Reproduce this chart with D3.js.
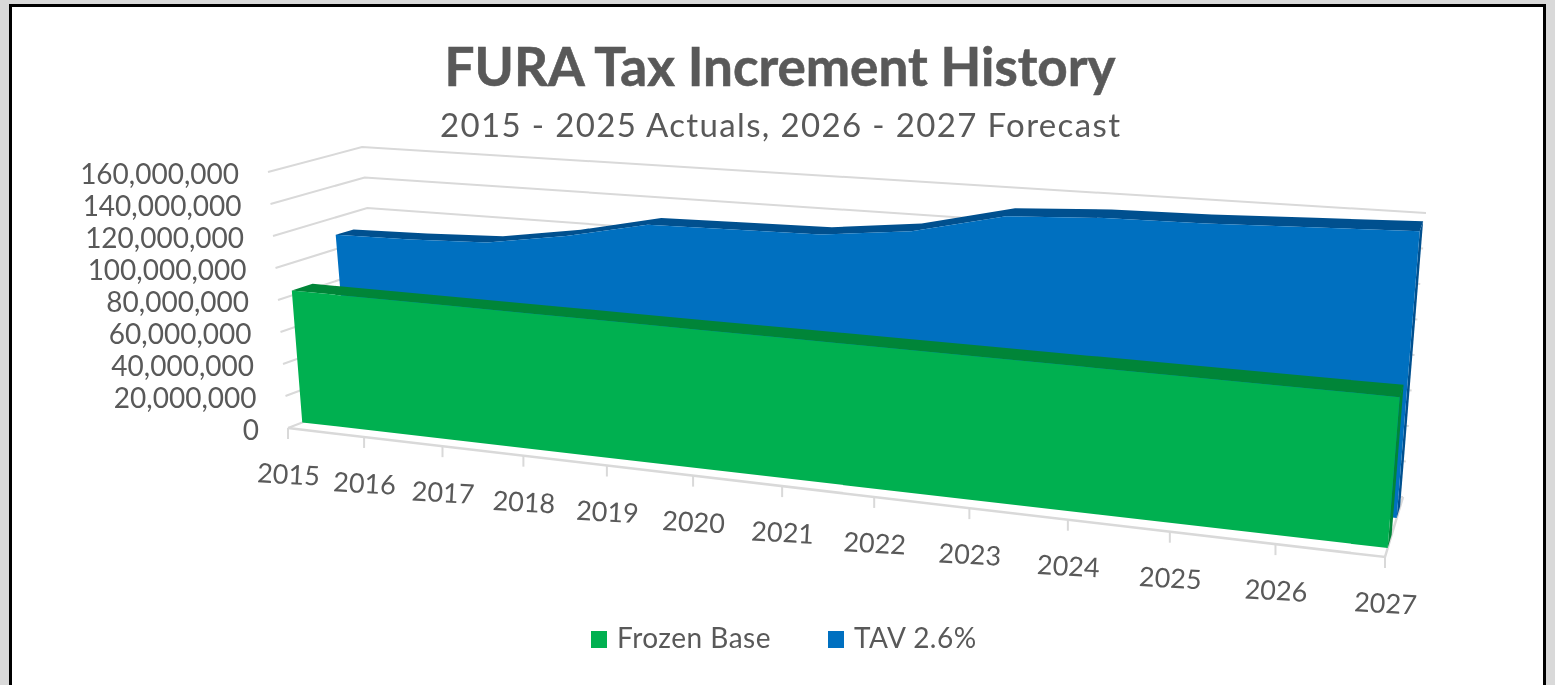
<!DOCTYPE html>
<html>
<head>
<meta charset="utf-8">
<script src="https://cdn.jsdelivr.net/npm/d3@7"></script>
<style>
  html, body { margin: 0; padding: 0; background: #d9d9d9; overflow: hidden; }
  svg { display: block; }
  text { font-family: Lato, "Open Sans", sans-serif; fill: #595959; }
</style>
</head>
<body>
<svg width="1555" height="685"></svg>
<script>
var years = ["2015","2016","2017","2018","2019","2020","2021","2022","2023","2024","2025","2026","2027"];
var frozenBase = [83e6,83e6,83e6,83e6,83e6,83e6,83e6,83e6,83e6,83e6,83e6,83e6,83e6];
var tav = [109e6,110e6,112e6,120e6,131e6,132e6,133e6,139e6,152e6,155e6,156e6,158e6,160e6];
var yTicks = [0,20e6,40e6,60e6,80e6,100e6,120e6,140e6,160e6];

var svg = d3.select("svg");

// Frame of the pasted picture
svg.append("rect").attr("x", 10.5).attr("y", 5.5).attr("width", 1534).attr("height", 690)
    .attr("fill", "#fff").attr("stroke", "#000").attr("stroke-width", 3);

var chart = svg.append("g").style("filter", "blur(0.6px)");

// Corners of the 3D box on screen
var box = {
  frontBottomLeft: [288, 428], frontBottomRight: [1385, 557],
  frontTopLeft: [268, 172], frontTopRight: [1408, 265],
  backBottomLeft: [383, 391], backBottomRight: [1403, 497],
  backTopLeft: [362, 147], backTopRight: [1426, 213]
};

var x = d3.scalePoint().domain(years).range([0, 1]),
    y = d3.scaleLinear().domain([0, 160e6]).range([0, 1]);

function mix(a, b, t) {
  return [a[0] + (b[0] - a[0]) * t, a[1] + (b[1] - a[1]) * t];
}

// year, value and depth (0 front, 1 back) to a screen point
function project(year, value, depth) {
  var u = x(year), k = 1.22;
  u = u / (u + k * (1 - u)); // years get wider towards the viewer
  var v = y(value);
  var bottom = mix(mix(box.frontBottomLeft, box.backBottomLeft, depth), mix(box.frontBottomRight, box.backBottomRight, depth), u);
  var top = mix(mix(box.frontTopLeft, box.backTopLeft, depth), mix(box.frontTopRight, box.backTopRight, depth), u);
  return mix(bottom, top, v);
}

var line = d3.line();
var first = years[0], last = years[years.length - 1];

function poly(points, color) {
  chart.append("path")
      .attr("d", line(points) + "Z")
      .attr("fill", color);
}

function wire(points, width) {
  chart.append("path")
      .attr("d", line(points))
      .attr("fill", "none")
      .attr("stroke", "#d9d9d9")
      .attr("stroke-width", width || 2);
}

// Gridlines on side and back wall
yTicks.forEach(function(t) {
  wire([project(first, t, 0), project(first, t, 1), project(last, t, 1)]);
});

// Floor edges and ticks
wire([project(first, 0, 0), project(last, 0, 0), project(last, 0, 1)], 2.5);
years.forEach(function(yr) {
  var p = project(yr, 0, 0);
  wire([p, [p[0], p[1] + 11]]);
});

// One area ribbon: right end, top strip, front face
function ribbon(values, w0, w1, color, dark) {
  var topFront = years.map(function(yr, i) { return project(yr, values[i], w0); });
  var topBack = years.map(function(yr, i) { return project(yr, values[i], w1); });
  var n = values.length - 1;
  poly([project(last, 0, w0), project(last, 0, w1), project(last, values[n], w1), project(last, values[n], w0)], dark);
  poly(topFront.concat(topBack.slice().reverse()), dark);
  poly([project(first, 0, w0)].concat(topFront, [project(last, 0, w0)]), color);
}

ribbon(tav, 0.65, 0.84, "#0070c0", "#00508f");
ribbon(frozenBase, 0.15, 0.37, "#00b050", "#008538");

// Value labels
chart.selectAll(".ylabel")
    .data(yTicks)
    .enter().append("text")
    .attr("class", "ylabel")
    .attr("text-anchor", "end")
    .attr("font-size", 28)
    .attr("x", function(d) { return project(first, d, 0)[0] - 29; })
    .attr("y", function(d) { return project(first, d, 0)[1] + 11.5; })
    .text(d3.format(","));

// Year labels
chart.selectAll(".xlabel")
    .data(years)
    .enter().append("text")
    .attr("class", "xlabel")
    .attr("text-anchor", "middle")
    .attr("font-size", 27)
    .attr("transform", function(d) {
      var p = project(d, 0, 0);
      return "translate(" + p[0] + "," + (p[1] + 56) + ") rotate(3)";
    })
    .text(function(d) { return d; });

// Titles
chart.append("text")
    .attr("x", 780).attr("y", 86)
    .attr("text-anchor", "middle")
    .attr("font-size", 53)
    .attr("font-weight", 700)
    .style("stroke", "#595959")
    .style("stroke-width", 0.6)
    .text("FURA Tax Increment History");

chart.append("text")
    .attr("x", 780).attr("y", 137)
    .attr("text-anchor", "middle")
    .attr("font-size", 33)
    .attr("textLength", 680)
    .attr("lengthAdjust", "spacing")
    .text("2015 - 2025 Actuals, 2026 - 2027 Forecast");

// Legend
var legendNames = ["Frozen Base", "TAV 2.6%"],
    legendColors = ["#00b050", "#0070c0"],
    legendX = [591, 828];

var legend = chart.selectAll(".legend")
    .data(legendNames)
    .enter().append("g")
    .attr("class", "legend")
    .attr("transform", function(d, i) { return "translate(" + legendX[i] + ",631)"; });
legend.append("rect")
    .attr("width", 16)
    .attr("height", 17)
    .attr("fill", function(d, i) { return legendColors[i]; });
legend.append("text")
    .attr("x", 26)
    .attr("y", 17)
    .attr("font-size", 28)
    .attr("letter-spacing", 0.5)
    .text(function(d) { return d; });
</script>
</body>
</html>
